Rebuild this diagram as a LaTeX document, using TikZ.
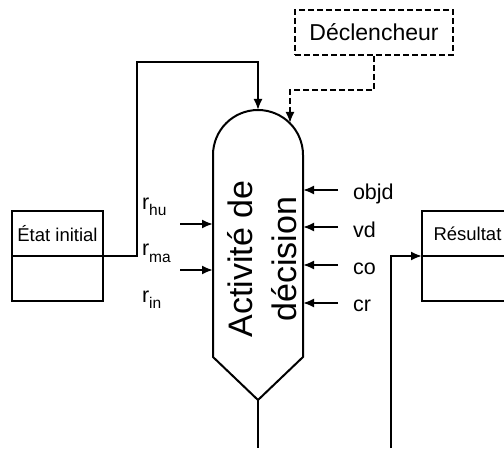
\documentclass[tikz,border=0pt]{standalone}
\usepackage{fontspec}
\setmainfont{Liberation Sans}
\usetikzlibrary{arrows.meta, positioning}

\newcommand{\rsub}[1]{\raisebox{-6pt}{\fontsize{15.5}{17}\selectfont #1}}

\begin{document}
\begin{tikzpicture}[
    x=1pt, y=1pt,
    line width=2pt,
    cell/.style={rectangle, draw, minimum width=91pt, minimum height=45pt, inner sep=0pt, outer sep=0pt, font=\fontsize{18.5}{22}\selectfont},
    trigger/.style={rectangle, draw, dash pattern=on 6pt off 3pt, minimum width=158pt, minimum height=45pt, inner sep=0pt, font=\fontsize{23}{27}\selectfont},
    var/.style={anchor=base west, inner sep=0pt, font=\fontsize{21.5}{25}\selectfont},
    arrow/.style={-{Latex[length=11pt, width=9pt]}},
]
\useasboundingbox (0,0) rectangle (504,448);

% Activity
\node[rotate=90, align=center, font=\fontsize{34}{44}\selectfont] (act) at (262,189) {Activité de\\décision};
\coordinate (apex) at (258,338);
\coordinate (tip) at (258,48);
\coordinate (actW) at (213,192);
\coordinate (actE) at (303,192);
\draw (213,91) -- (213,293) arc[start angle=180, end angle=0, radius=45] -- (303,91) -- (tip) -- cycle;

% States
\node[cell] (init) at (57.5,214.5) {État initial};
\node[cell, below=0pt of init] (initlow) {};
\node[cell] (res) at (467.5,214.5) {Résultat};
\node[cell, below=0pt of res] (reslow) {};

% Trigger
\node[trigger] (trig) at (374,415.5) {Déclencheur};

% Resources
\node[var] (rhu) at (141,238) {r\rsub{hu}};
\node[var] (rma) at (141,192) {r\rsub{ma}};
\node[var] (rin) at (141,146) {r\rsub{in}};

% Constraints
\node[var] (objd) at (352,248) {objd};
\node[var] (vd) at (352,211) {vd};
\node[var] (co) at (352,173) {co};
\node[var] (cr) at (352,136) {cr};

% Arrows
\coordinate (inA) at (180,224);
\coordinate (inB) at (180,178);
\draw[arrow] (inA) -- (inA -| actW);
\draw[arrow] (inB) -- (inB -| actW);

\coordinate (inObjd) at (338,258);
\coordinate (inVd) at (338,221);
\coordinate (inCo) at (338,183);
\coordinate (inCr) at (338,145);
\draw[arrow] (inObjd) -- (inObjd -| actE);
\draw[arrow] (inVd) -- (inVd -| actE);
\draw[arrow] (inCo) -- (inCo -| actE);
\draw[arrow] (inCr) -- (inCr -| actE);

\coordinate (via) at (137,386);
\draw[arrow] (init.south east) -| (via) -| (apex);

\coordinate (hit) at (290,325);
\draw[arrow, dash pattern=on 6pt off 3pt] (trig.south) -- ++(0,-34) -| (hit);

\coordinate (outAct) at (258,0);
\coordinate (inRes) at (391,0);
\draw (tip) -- (outAct);
\draw[arrow] (inRes) |- (res.south west);

\end{tikzpicture}
\end{document}
